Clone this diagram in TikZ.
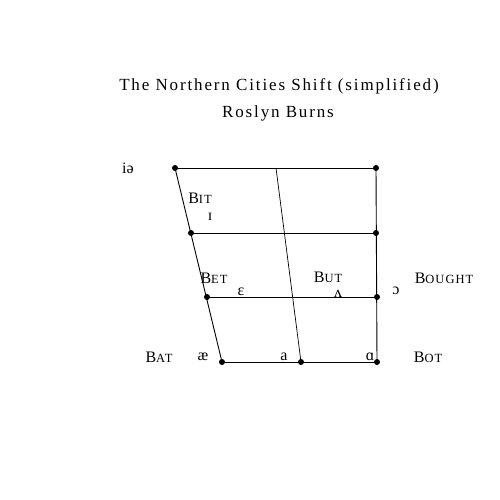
\documentclass[tikz,border=0pt]{standalone}
\usepackage{fontspec}
\setmainfont{Liberation Serif}
\newfontfamily\titlefont[LetterSpace=11]{Liberation Serif}
\newfontfamily\scfont[LetterSpace=8]{Liberation Serif}
\newcommand{\sck}[2]{{\scfont #1{\fontsize{12.5}{14}\selectfont #2}}}
\begin{document}
\begin{tikzpicture}[x=1pt,y=-1pt,
  dot/.style={circle,fill=black,inner sep=0pt,minimum size=6pt},
  lbl/.style={inner sep=0pt,font=\fontsize{16}{19}\selectfont},
  ln/.style={line width=0.9pt}]
\useasboundingbox (0,0) rectangle (500,500);
\node[inner sep=0pt,font=\titlefont\fontsize{17}{20}\selectfont] (title) at (279,86) {The Northern Cities Shift (simplified)};
\node[inner sep=0pt,font=\titlefont\fontsize{17}{20}\selectfont] (author) at (278,113) {Roslyn Burns};
% dots
\node[dot] (tl) at (175,168) {};
\node[dot] (tr) at (376,168) {};
\node[dot] (l2) at (191,233) {};
\node[dot] (r2) at (376,233) {};
\node[dot] (l3) at (207,297) {};
\node[dot] (r3) at (377,297) {};
\node[dot] (l4) at (222,362) {};
\node[dot] (m4) at (301,362) {};
\node[dot] (r4) at (377,362) {};
\coordinate (mt) at (276,168);
% lines
\draw[ln] (tl.center) -- (tr.center);
\draw[ln] (l2.center) -- (r2.center);
\draw[ln] (l3.center) -- (r3.center);
\draw[ln] (l4.center) -- (r4.center);
\draw[ln] (tl.center) -- (l4.center);
\draw[ln] (tr.center) -- (r4.center);
\draw[line width=0.7pt] (mt) -- (m4.center);
% labels
\node[lbl] (ie) at (128,168) {iə};
\node[lbl] (bit) at (200,198) {\sck{B}{IT}};
\node[lbl] (ih) at (210,217) {ɪ};
\node[lbl] (bet) at (214,278) {\sck{B}{ET}};
\node[lbl] (eh) at (241,292) {ɛ};
\node[lbl] (but) at (328,277) {\sck{B}{UT}};
\node[lbl] (uh) at (338,294) {ʌ};
\node[lbl] (aw) at (396,291) {ɔ};
\node[lbl] (bought) at (444,278) {\sck{B}{OUGHT}};
\node[lbl] (bat) at (159,357) {\sck{B}{AT}};
\node[lbl] (ae) at (203,357) {æ};
\node[lbl] (a) at (284,357) {a};
\node[lbl] (ah) at (370,357) {ɑ};
\node[lbl] (bot) at (428,357) {\sck{B}{OT}};
\end{tikzpicture}
\end{document}
